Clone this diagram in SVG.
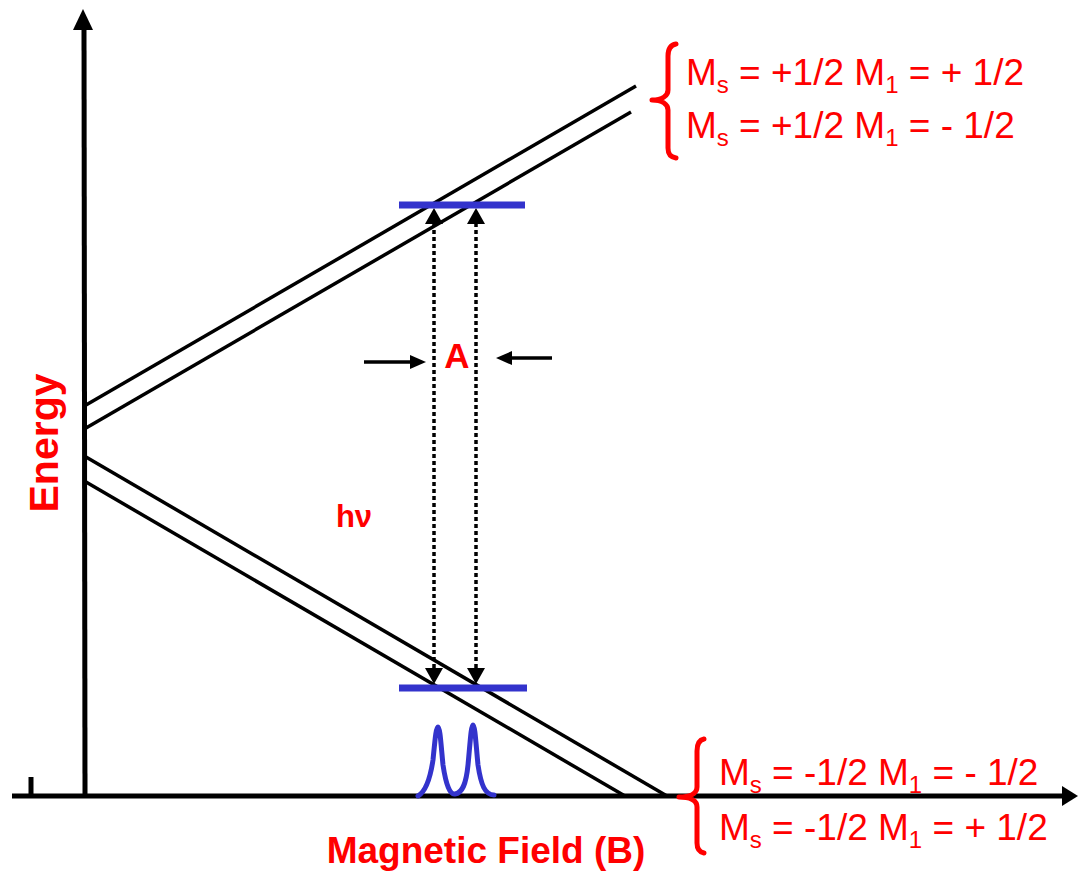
<svg xmlns="http://www.w3.org/2000/svg" width="1078" height="872" viewBox="0 0 1078 872">
<style>
.ax{stroke:#000;stroke-width:5;fill:none}
.lv{stroke:#000;stroke-width:3.5;fill:none}
.bar{stroke:#3333cc;stroke-width:7}
.dot{stroke:#000;stroke-width:3.5;stroke-dasharray:4 3;fill:none}
.ah{fill:#000}
.brace{stroke:#ff0000;stroke-width:5;fill:none;stroke-linecap:round;stroke-linejoin:round}
.lbl{font-family:"Liberation Sans",Arial,sans-serif;fill:#ff0000}
.b{font-weight:bold}
</style>
<rect width="1078" height="872" fill="#fff"/>
<g id="connectors">
  <line class="ax" x1="85" y1="796" x2="84" y2="26"/>
  <polygon class="ah" points="83,9 73,30 93,30"/>
  <line class="ax" x1="12" y1="796" x2="1064" y2="796"/>
  <polygon class="ah" points="1078,796 1062,786 1062,806"/>
  <line class="ax" x1="31" y1="777" x2="31" y2="796"/>
  <line class="lv" x1="86" y1="405" x2="636" y2="86"/>
  <line class="lv" x1="86" y1="428" x2="631" y2="112"/>
  <line class="lv" x1="86" y1="457" x2="667" y2="796"/>
  <line class="lv" x1="86" y1="482" x2="625" y2="796"/>
  <line class="dot" x1="434" y1="223" x2="434" y2="668"/>
  <line class="dot" x1="476" y1="223" x2="476" y2="668"/>
  <polygon class="ah" points="434,208 425,224 443,224"/>
  <polygon class="ah" points="476,208 467,224 485,224"/>
  <polygon class="ah" points="434,684 425,668 443,668"/>
  <polygon class="ah" points="476,684 467,668 485,668"/>
  <line class="lv" x1="364" y1="362" x2="412" y2="362"/>
  <polygon class="ah" points="426,362 410,355 410,369"/>
  <line class="lv" x1="552" y1="358" x2="510" y2="358"/>
  <polygon class="ah" points="496,358 512,351 512,365"/>
</g>
<g id="upper-level">
  <line class="bar" x1="399" y1="205" x2="525" y2="205"/>
</g>
<g id="lower-level">
  <line class="bar" x1="399" y1="688" x2="527" y2="688"/>
</g>
<g id="spectrum">
  <path d="M418,796 C425,792 430,780 433,760 C435,740 436,727 438,727 C440,727 441,745 443,765 C446,785 450,795 455,794 C462,793 466,785 468,765 C470,745 471,725 473,725 C475,725 476,745 478,765 C481,785 485,795 494,795" stroke="#3333cc" stroke-width="5" fill="none" stroke-linecap="round"/>
</g>
<g id="label-A"><text class="lbl b" x="457" y="368" font-size="35" text-anchor="middle">A</text></g>
<g id="label-hv"><text class="lbl b" x="354" y="527" font-size="31" text-anchor="middle">hν</text></g>
<g id="label-energy"><text class="lbl b" transform="translate(58,443) rotate(-90)" x="0" y="0" font-size="41" text-anchor="middle">Energy</text></g>
<g id="label-field"><text class="lbl b" x="486" y="863" font-size="37" text-anchor="middle">Magnetic Field (B)</text></g>
<g id="upper-states">
  <path class="brace" d="M676,44 C670,45 668,49 668,56 L668,90 C668,96 662,100 652,100 C662,100 668,104 668,110 L668,148 C668,154 670,157 676,158"/>
  <text class="lbl" x="686" y="85" font-size="37">M<tspan font-size="24" dy="8">s</tspan><tspan dy="-8"> = +1/2 M</tspan><tspan font-size="24" dy="8">1</tspan><tspan dy="-8"> = + 1/2</tspan></text>
  <text class="lbl" x="686" y="138" font-size="37">M<tspan font-size="24" dy="8">s</tspan><tspan dy="-8"> = +1/2 M</tspan><tspan font-size="24" dy="8">1</tspan><tspan dy="-8"> = - 1/2</tspan></text>
</g>
<g id="lower-states">
  <path class="brace" d="M704,739 C699,740 697,744 697,751 L697,787 C697,793 691,797 679,797 C691,797 697,801 697,807 L697,843 C697,849 699,852 704,853"/>
  <text class="lbl" x="719" y="785" font-size="37">M<tspan font-size="24" dy="8">s</tspan><tspan dy="-8"> = -1/2 M</tspan><tspan font-size="24" dy="8">1</tspan><tspan dy="-8"> = - 1/2</tspan></text>
  <text class="lbl" x="719" y="840" font-size="37">M<tspan font-size="24" dy="8">s</tspan><tspan dy="-8"> = -1/2 M</tspan><tspan font-size="24" dy="8">1</tspan><tspan dy="-8"> = + 1/2</tspan></text>
</g>
</svg>
